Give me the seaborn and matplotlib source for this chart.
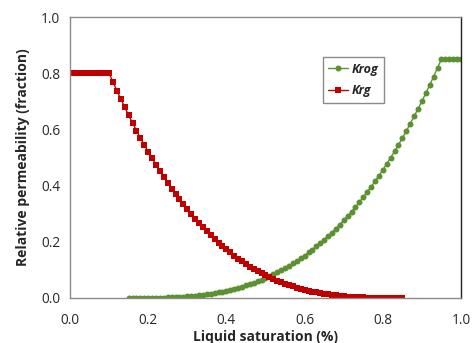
import numpy as np
import pandas as pd
import matplotlib
matplotlib.use("Agg")
import matplotlib.pyplot as plt
import seaborn as sns

# Liquid saturation grid (fraction)
sat_krg = [round(0.01 * i, 2) for i in range(0, 86)]      # 0.00 .. 0.85
sat_krog = [round(0.15 + 0.01 * i, 2) for i in range(0, 86)]  # 0.15 .. 1.00

krg = [0.8, 0.8, 0.8, 0.8, 0.8, 0.8, 0.8, 0.8, 0.8, 0.8, 0.8,
       0.768, 0.738, 0.708, 0.679, 0.650, 0.623, 0.596, 0.570, 0.545, 0.521,
       0.497, 0.474, 0.452, 0.430, 0.410, 0.389, 0.370, 0.351, 0.333, 0.315,
       0.299, 0.282, 0.267, 0.252, 0.237, 0.223, 0.210, 0.197, 0.185, 0.173,
       0.162, 0.151, 0.140, 0.131, 0.121, 0.112, 0.104, 0.096, 0.088, 0.081,
       0.075, 0.068, 0.062, 0.056, 0.051, 0.046, 0.042, 0.037, 0.033, 0.030,
       0.026, 0.023, 0.020, 0.018, 0.015, 0.013, 0.011, 0.009, 0.008, 0.006,
       0.005, 0.004, 0.003, 0.003, 0.002, 0.001, 0.001, 0.001, 0.000, 0.000,
       0.0, 0.0, 0.0, 0.0, 0.0]

krog = [0.0, 0.0, 0.0, 0.0, 0.0, 0.0, 0.0, 0.001, 0.001, 0.001, 0.002,
        0.002, 0.003, 0.004, 0.005, 0.006, 0.007, 0.008, 0.010, 0.011, 0.013,
        0.015, 0.018, 0.020, 0.023, 0.026, 0.029, 0.033, 0.036, 0.040, 0.045,
        0.049, 0.054, 0.060, 0.065, 0.071, 0.077, 0.084, 0.091, 0.098, 0.106,
        0.114, 0.123, 0.132, 0.141, 0.151, 0.162, 0.172, 0.184, 0.195, 0.208,
        0.220, 0.233, 0.247, 0.261, 0.276, 0.292, 0.307, 0.324, 0.341, 0.359,
        0.377, 0.396, 0.415, 0.435, 0.456, 0.477, 0.499, 0.522, 0.545, 0.569,
        0.594, 0.620, 0.646, 0.673, 0.700, 0.729, 0.758, 0.788, 0.819, 0.85,
        0.85, 0.85, 0.85, 0.85, 0.85]

x_ticks = [0.0, 0.2, 0.4, 0.6, 0.8, 1.0]
y_ticks = [0.0, 0.2, 0.4, 0.6, 0.8, 1.0]

sns.set_style("white")
plt.rcParams['font.family'] = ['Open Sans', 'DejaVu Sans']

green = "#5B9130"
red = "#C00000"

df_krog = pd.DataFrame({"S": sat_krog, "K": krog})
df_krg = pd.DataFrame({"S": sat_krg, "K": krg})

fig = plt.figure(figsize=(4.73, 3.43), dpi=100)
ax = fig.add_axes([0.148, 0.1312, 0.8266, 0.8192])

sns.lineplot(data=df_krog, x="S", y="K", ax=ax, color=green, marker="o",
             markersize=4.3, markeredgewidth=0, linewidth=1.0, label="Krog")
sns.lineplot(data=df_krg, x="S", y="K", ax=ax, color=red, marker="s",
             markersize=3.8, markeredgewidth=0, linewidth=1.0, label="Krg")

ax.set_xlim(0, 1.0)
ax.set_ylim(0, 1.0)
ax.set_xticks(x_ticks)
ax.set_yticks(y_ticks)
ax.set_xticklabels([f"{v:.1f}" for v in x_ticks], fontsize=9.8)
ax.set_yticklabels([f"{v:.1f}" for v in y_ticks], fontsize=9.8)
ax.tick_params(axis="x", direction="inout", length=7, width=0.9, color="#808080", pad=7)
ax.tick_params(axis="y", direction="out", length=4, width=0.9, color="#808080", pad=3)

for side in ["left", "top", "bottom"]:
    ax.spines[side].set_color("#8a8a8a")
    ax.spines[side].set_linewidth(1.0)
ax.spines["right"].set_color("#222222")
ax.spines["right"].set_linewidth(1.0)

ax.set_xlabel("Liquid saturation (%)", fontsize=10, fontweight="bold", labelpad=2)
ax.set_ylabel("Relative permeability (fraction)", fontsize=10, fontweight="bold", labelpad=8)

leg = ax.legend(loc="upper left", bbox_to_anchor=(0.63, 0.88), frameon=True,
                fancybox=False, framealpha=1, edgecolor="#8a8a8a",
                prop={"size": 9, "weight": "bold", "style": "italic"},
                handlelength=1.6, handletextpad=0.3, borderpad=0.45, labelspacing=0.7)
leg.get_frame().set_linewidth(1.0)

fig.savefig("out.png", dpi=100)
